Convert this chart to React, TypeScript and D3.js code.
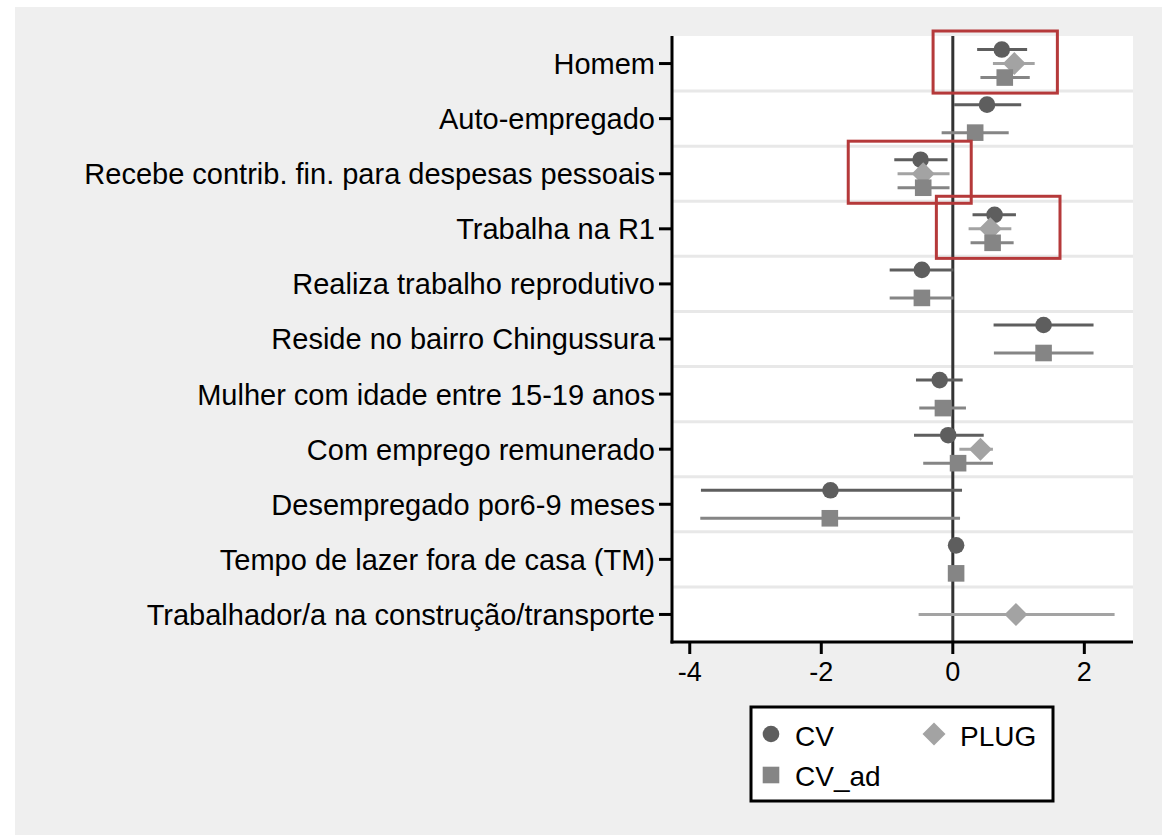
import React from "react";
import * as d3 from "d3";

// categorias (de cima para baixo)
const categories = [
  "Homem",
  "Auto-empregado",
  "Recebe contrib. fin. para despesas pessoais",
  "Trabalha na R1",
  "Realiza trabalho reprodutivo",
  "Reside no bairro Chingussura",
  "Mulher com idade entre 15-19 anos",
  "Com emprego remunerado",
  "Desempregado por6-9 meses",
  "Tempo de lazer fora de casa (TM)",
  "Trabalhador/a na construção/transporte",
];

const seriesNames = ["CV", "PLUG", "CV_ad"];

// [estimativa, limite inferior, limite superior] — null quando não existe
const cvValues = [
  [0.745, 0.37, 1.13],
  [0.52, 0.02, 1.04],
  [-0.49, -0.89, -0.08],
  [0.635, 0.3, 0.96],
  [-0.47, -0.96, 0.01],
  [1.38, 0.62, 2.14],
  [-0.2, -0.56, 0.15],
  [-0.07, -0.59, 0.47],
  [-1.86, -3.83, 0.14],
  [0.05, 0.04, 0.06],
  null,
];

const plugValues = [
  [0.935, 0.61, 1.245],
  null,
  [-0.45, -0.84, -0.05],
  [0.57, 0.24, 0.89],
  null,
  null,
  null,
  [0.42, 0.1, 0.61],
  null,
  null,
  [0.96, -0.52, 2.46],
];

const cvAdValues = [
  [0.79, 0.42, 1.17],
  [0.34, -0.17, 0.85],
  [-0.45, -0.84, -0.05],
  [0.605, 0.27, 0.925],
  [-0.47, -0.96, 0.01],
  [1.38, 0.625, 2.14],
  [-0.15, -0.51, 0.2],
  [0.08, -0.45, 0.61],
  [-1.87, -3.84, 0.11],
  [0.05, 0.04, 0.06],
  null,
];

const xTicks = [-4, -2, 0, 2];

// caixas vermelhas de destaque: categoria + intervalo em x
const highlightCats = ["Homem", "Recebe contrib. fin. para despesas pessoais", "Trabalha na R1"];
const highlightX = [
  [-0.3, 1.59],
  [-1.59, 0.28],
  [-0.25, 1.63],
];

const colors = { CV: "#5e5e5e", PLUG: "#a3a3a3", CV_ad: "#858585" };
const FONT = "'Liberation Sans', Arial, Helvetica, sans-serif";

const W = 1173;
const H = 835;
const plot = { left: 672, right: 1133, top: 36, bottom: 642 };

function Marker({ name, cx, cy }) {
  const c = colors[name];
  if (name === "CV") return <circle cx={cx} cy={cy} r={8.3} fill={c} />;
  if (name === "CV_ad") return <rect x={cx - 8.3} y={cy - 8.3} width={16.6} height={16.6} fill={c} />;
  const s = 11.5;
  return <path d={`M${cx},${cy - s}L${cx + s},${cy}L${cx},${cy + s}L${cx - s},${cy}Z`} fill={c} />;
}

export default function App() {
  const x = d3.scaleLinear().domain([-4.27, 2.74]).range([plot.left, plot.right]);
  const y = d3.scaleBand().domain(categories).range([plot.top, plot.bottom]).padding(0);
  const bw = y.bandwidth();
  const off = d3.scalePoint().domain(seriesNames).range([-14, 14]);

  const series = [
    { name: "CV", vals: cvValues },
    { name: "PLUG", vals: plugValues },
    { name: "CV_ad", vals: cvAdValues },
  ];

  return (
    <svg width={W} height={H} style={{ position: "absolute", left: 0, top: 0 }} fontFamily={FONT}>
      <rect x={0} y={0} width={W} height={H} fill="#ffffff" />
      <rect x={15} y={7} width={1147} height={H - 7} fill="#efefef" />
      <rect x={plot.left} y={plot.top} width={plot.right - plot.left} height={plot.bottom - plot.top} fill="#ffffff" />

      {/* linhas de grade entre categorias */}
      {categories.slice(1).map((c) => (
        <line key={c} x1={plot.left} x2={plot.right} y1={y(c)} y2={y(c)} stroke="#e8e8e8" strokeWidth={3} />
      ))}

      {/* linha do zero */}
      <line x1={x(0)} x2={x(0)} y1={plot.top} y2={plot.bottom} stroke="#333333" strokeWidth={3} />

      {series.map((s) => (
        <g key={s.name}>
          {s.vals.map((v, i) => {
            if (!v) return null;
            const cy = y(categories[i]) + bw / 2 + off(s.name);
            return (
              <g key={i}>
                <line x1={x(v[1])} x2={x(v[2])} y1={cy} y2={cy} stroke={colors[s.name]} strokeWidth={3} />
                <Marker name={s.name} cx={x(v[0])} cy={cy} />
              </g>
            );
          })}
        </g>
      ))}

      {/* eixos */}
      <line x1={plot.left} x2={plot.left} y1={plot.top} y2={plot.bottom + 1.5} stroke="#000" strokeWidth={3} />
      <line x1={plot.left - 1.5} x2={plot.right} y1={plot.bottom} y2={plot.bottom} stroke="#000" strokeWidth={3} />
      {categories.map((c) => {
        const cy = y(c) + bw / 2;
        return (
          <g key={c}>
            <line x1={plot.left - 13} x2={plot.left} y1={cy} y2={cy} stroke="#000" strokeWidth={3} />
            <text x={655} y={cy} dy="0.36em" textAnchor="end" fontSize={29} fill="#000">
              {c}
            </text>
          </g>
        );
      })}
      {xTicks.map((t) => (
        <g key={t}>
          <line x1={x(t)} x2={x(t)} y1={plot.bottom} y2={plot.bottom + 12} stroke="#000" strokeWidth={3} />
          <text x={x(t)} y={681} textAnchor="middle" fontSize={27} fill="#000">
            {t}
          </text>
        </g>
      ))}

      {/* caixas de destaque */}
      {highlightCats.map((c, i) => (
        <rect
          key={c}
          x={x(highlightX[i][0])}
          y={y(c) - 5}
          width={x(highlightX[i][1]) - x(highlightX[i][0])}
          height={bw + 7}
          fill="none"
          stroke="#b5393a"
          strokeWidth={3}
        />
      ))}

      {/* legenda */}
      <rect x={751} y={707} width={302} height={94} fill="#ffffff" stroke="#000" strokeWidth={3} />
      <Marker name="CV" cx={771} cy={734} />
      <text x={795} y={746} fontSize={28} fill="#000">CV</text>
      <Marker name="PLUG" cx={934} cy={734} />
      <text x={960} y={746} fontSize={28} fill="#000">PLUG</text>
      <Marker name="CV_ad" cx={771} cy={775} />
      <text x={795} y={786} fontSize={28} fill="#000">CV_ad</text>
    </svg>
  );
}
